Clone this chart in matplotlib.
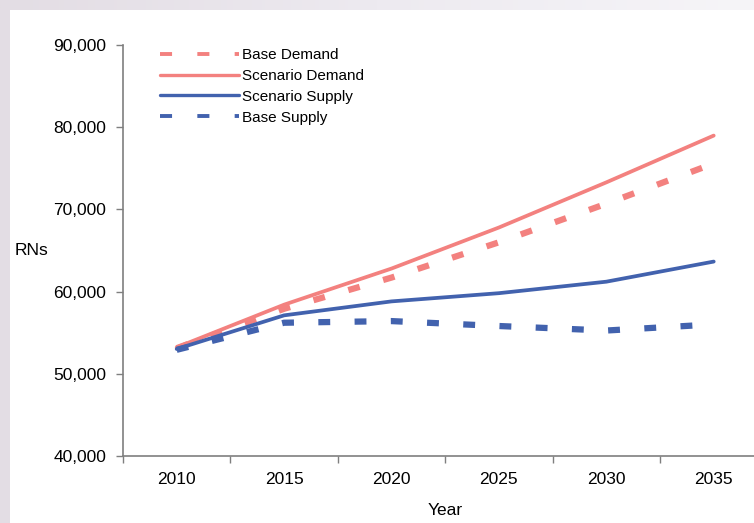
import numpy as np
import matplotlib
matplotlib.use('Agg')
import matplotlib.pyplot as plt
from matplotlib.patches import Rectangle
from matplotlib.ticker import FuncFormatter

plt.rcParams['font.family'] = ['Liberation Sans', 'DejaVu Sans']

# data
years = [2010, 2015, 2020, 2025, 2030, 2035]
year_labels = ['2010', '2015', '2020', '2025', '2030', '2035']
base_demand = [53100, 57900, 61700, 66000, 70700, 75600]
scenario_demand = [53200, 58400, 62800, 67800, 73300, 79000]
scenario_supply = [53000, 57100, 58800, 59800, 61200, 63650]
base_supply = [52900, 56200, 56400, 55800, 55250, 56000]

PINK = '#F3817F'
BLUE = '#4262AE'
AXIS_GRAY = '#7f7f7f'

W, H = 754, 523
fig = plt.figure(figsize=(W / 100, H / 100), dpi=100)
fig.patch.set_facecolor('#E3DDE4')

# background: lavender strip at left, fading band at top, white panel
bg = fig.add_axes([0, 0, 1, 1], zorder=-10)
bg.set_xlim(0, W)
bg.set_ylim(H, 0)
bg.axis('off')
grad = np.linspace(0, 1, 256)[None, :]
top_cmap = matplotlib.colors.LinearSegmentedColormap.from_list('top', ['#E3DDE4', '#EDEAF0', '#F6F5F8'])
bg.imshow(grad, cmap=top_cmap, extent=(0, W, 10, 0), aspect='auto')
bg.add_patch(Rectangle((10, 10), W - 10, H - 10, facecolor='white', edgecolor='none'))

# plot area (right end runs past the figure edge like the reference)
ax_left, ax_right, ax_top, ax_bottom = 123, 767.4, 45.3, 455.7
ax = fig.add_axes([ax_left / W, 1 - ax_bottom / H,
                   (ax_right - ax_left) / W, (ax_bottom - ax_top) / H])
ax.set_facecolor('none')

solid_lw = 2.7
dash_lw = 4.5
dash_pat = (1.9, 3.9)

ax.plot(years, base_demand, color=PINK, lw=dash_lw, dashes=dash_pat,
        dash_capstyle='butt', label='Base Demand', clip_on=False)
ax.plot(years, scenario_demand, color=PINK, lw=solid_lw, solid_capstyle='round',
        label='Scenario Demand', clip_on=False)
ax.plot(years, scenario_supply, color=BLUE, lw=solid_lw, solid_capstyle='round',
        label='Scenario Supply', clip_on=False)
ax.plot(years, base_supply, color=BLUE, lw=dash_lw, dashes=dash_pat,
        dash_capstyle='butt', label='Base Supply', clip_on=False)

ax.set_xlim(2007.5, 2037.5)
ax.set_ylim(40000, 90000)
ax.set_yticks(np.arange(40000, 90001, 10000))
ax.yaxis.set_major_formatter(FuncFormatter(lambda v, p: f'{int(v):,}'))

# category style x axis: tick marks between years, labels at year centres
ax.set_xticks(np.arange(2007.5, 2038, 5))
ax.set_xticklabels([])
ax.set_xticks(years, year_labels, minor=True)
ax.tick_params(axis='x', which='major', direction='out', length=5, width=1, color=AXIS_GRAY)
ax.tick_params(axis='x', which='minor', length=0, pad=11.5, labelsize=12.5)
ax.tick_params(axis='y', direction='out', length=5, width=1, color=AXIS_GRAY,
               pad=7, labelsize=12.5)

for s in ['top', 'right']:
    ax.spines[s].set_visible(False)
for s in ['left', 'bottom']:
    ax.spines[s].set_color(AXIS_GRAY)
    ax.spines[s].set_linewidth(1.2)

ax.set_xlabel('Year', fontsize=12.5, ha='center', va='baseline')
ax.xaxis.set_label_coords((445 - ax_left) / (ax_right - ax_left),
                          (ax_bottom - 515) / (ax_bottom - ax_top))
ax.set_ylabel('RNs', fontsize=12.5, rotation=0, ha='left', va='baseline')
ax.yaxis.set_label_coords((15 - ax_left) / (ax_right - ax_left),
                          (ax_bottom - 255) / (ax_bottom - ax_top))

leg = ax.legend(loc='upper left', bbox_to_anchor=(160 / W, 1 - 48 / H),
                bbox_transform=fig.transFigure, frameon=False, fontsize=11,
                handlelength=5.2, handletextpad=0.2, labelspacing=0.45,
                borderpad=0, borderaxespad=0)
for line in leg.get_lines():
    if line.get_linestyle() == '-':
        line.set_linewidth(2.4)
    else:
        line.set_linewidth(2.8)
        line.set_dashes((3.1, 6.5))

fig.savefig('out.png', dpi=100, facecolor=fig.get_facecolor())
